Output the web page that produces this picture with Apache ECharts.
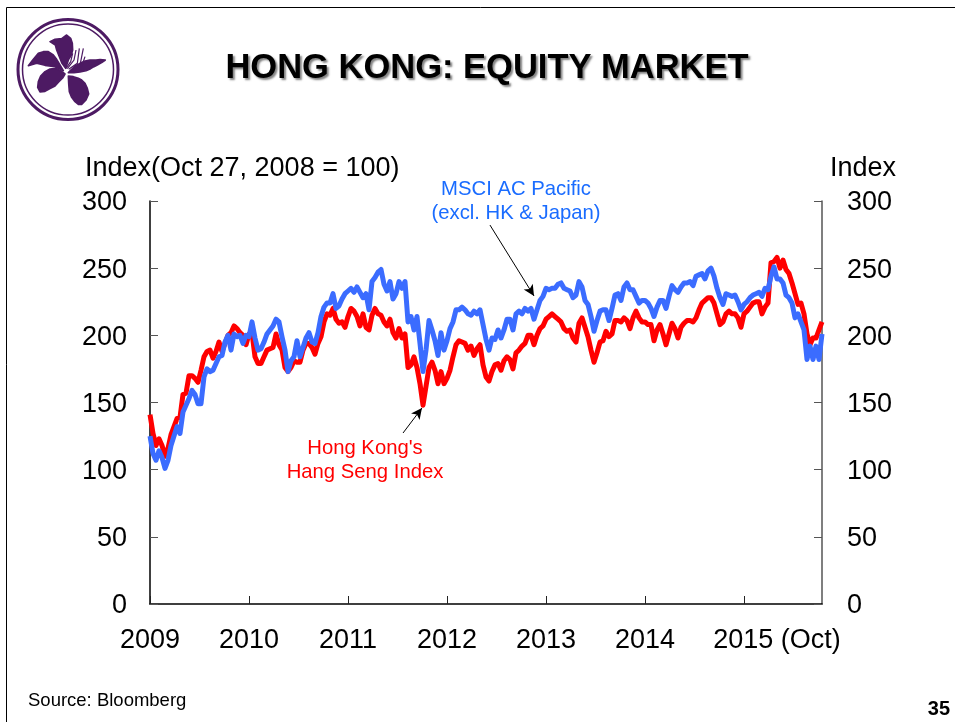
<!DOCTYPE html>
<html><head><meta charset="utf-8">
<script src="https://cdn.jsdelivr.net/npm/echarts@6/dist/echarts.min.js"></script>
<style>html,body{margin:0;padding:0;background:#fff}#c{width:955px;height:722px}</style>
</head><body><div id="c"></div>
<script>
const yearTicks = [2009,2010,2011,2012,2013,2014,2015];
const yTicks = [0,50,100,150,200,250,300];
const pointsPerYear = 33;

const hsi2009 = [141,127,118,123,118,110,116,126,132,138,139,156,157,170,170,168,165,174,184,188,189,183,188,195,188,194,200,202,207,205,202,200,193];
const hsi2010 = [201,202,184,179,179,184,189,190,191,201,193,189,176,173,176,181,180,180,189,194,194,191,186,194,199,210,216,215,220,212,209,210,206];
const hsi2011 = [214,220,218,214,207,216,206,204,215,220,216,215,210,207,212,202,198,205,198,201,176,178,184,176,164,148,162,176,180,174,164,173,164];
const hsi2012 = [168,174,184,193,196,195,194,189,192,185,190,193,178,169,166,173,178,179,174,181,184,182,175,187,189,192,194,200,200,193,200,205,207];
const hsi2013 = [212,214,216,214,212,210,205,203,204,198,195,209,213,206,199,189,180,187,195,196,203,199,201,211,211,210,213,211,205,213,218,213,210];
const hsi2014 = [210,208,208,196,204,208,201,193,201,209,205,198,206,209,211,211,210,213,219,224,226,228,228,224,216,208,210,216,218,216,216,213,206];
const hsi2015 = [216,218,221,224,225,225,216,221,224,254,255,258,250,256,249,246,239,231,223,224,216,201,193,198,198,204,210];

const msci2009 = [125,112,107,114,109,101,107,118,125,132,127,143,148,153,159,156,149,149,169,175,173,174,179,184,185,195,200,189,201,199,200,194,200];
const msci2010 = [199,210,198,189,190,195,201,204,207,212,210,199,189,173,181,184,196,184,191,198,202,195,194,202,214,221,224,224,231,220,222,227,231];
const msci2011 = [233,235,232,236,232,228,231,219,240,243,247,249,238,233,240,227,231,240,235,240,210,214,204,214,194,173,189,211,204,196,185,202,189];
const msci2012 = [196,205,210,219,219,221,219,216,215,218,216,219,208,197,189,198,197,204,198,204,212,212,204,216,218,216,220,218,220,212,219,226,229];
const msci2013 = [235,234,235,235,238,239,235,234,233,228,230,240,236,226,223,214,203,211,218,219,219,211,220,230,231,226,236,239,234,234,229,224,226];
const msci2014 = [226,224,220,214,221,226,226,220,229,237,234,232,236,239,239,240,237,244,245,246,242,248,250,244,235,228,223,231,230,229,230,225,219];
const msci2015 = [223,225,228,230,231,232,229,235,234,244,251,242,242,239,230,228,224,213,216,210,204,182,192,182,192,182,201];

const hsiValues = [].concat(hsi2009,hsi2010,hsi2011,hsi2012,hsi2013,hsi2014,hsi2015);
const msciValues = [].concat(msci2009,msci2010,msci2011,msci2012,msci2013,msci2014,msci2015);
const toPoints = vals => vals.map((v,i)=>[2009+i/pointsPerYear, v]);
const xEnd = 2009+(hsiValues.length-1)/pointsPerYear;

const PURPLE = '#4d1a63';
const scalePts = pts => pts.map(p=>[p[0]/3,p[1]/3]);
const petals = [
 [[197,205],[186,190],[178,170],[170,150],[166,135],[150,125],[165,118],[185,116],[200,105],[212,115],[217,130],[218,150],[214,165],[206,178]],
 [[190,212],[180,195],[170,178],[160,165],[145,155],[130,155],[115,160],[100,178],[85,197],[110,190],[135,196],[165,200]],
 [[195,222],[182,212],[168,205],[150,207],[135,215],[122,228],[115,245],[113,262],[120,276],[135,274],[150,266],[165,258],[176,246],[188,234]],
 [[205,228],[206,250],[208,275],[215,292],[225,305],[235,313],[245,313],[258,300],[266,282],[262,265],[255,250],[245,240],[235,235],[220,230]],
 [[205,218],[222,218],[240,216],[258,212],[272,206],[282,200],[292,195],[305,188],[316,180],[300,179],[288,180],[270,180],[255,183],[240,190],[225,198]]
];
const stamens = [
 [[198,205],[212,185],[218,160]],[[202,206],[222,180],[228,150]],
 [[206,208],[232,190],[238,145]],[[210,212],[240,195],[250,145]],[[214,214],[245,200],[255,170]]
];
const logo = [
 {type:'circle',shape:{cx:68,cy:69.5,r:50},style:{fill:'none',stroke:PURPLE,lineWidth:3}},
 {type:'circle',shape:{cx:68,cy:69.5,r:45.5},style:{fill:'none',stroke:PURPLE,lineWidth:1.5}}
].concat(petals.map(p=>({type:'polygon',shape:{points:scalePts(p)},style:{fill:PURPLE,stroke:PURPLE,lineWidth:1.6,lineJoin:'round'}})))
 .concat(stamens.map(p=>({type:'polyline',shape:{points:scalePts(p)},style:{fill:'none',stroke:PURPLE,lineWidth:1.2}})));

const FONT = '"Liberation Sans", Arial, sans-serif';
const txt = (text,x,y,size,color,align,extra) => ({type:'text',x:x,y:y,silent:true,style:Object.assign({text:text,fill:color,font:size+'px '+FONT,textAlign:align,textVerticalAlign:'middle',lineHeight:Math.round(size*1.17)},extra||{})});
const yLabelRich = {n:{fontSize:27,color:'#000',fontFamily:FONT,padding:[4,0,0,0]}};
const yLabelFmt = v => '{n|'+v+'}';

const chart = echarts.init(document.getElementById('c'),null,{renderer:'canvas'});
chart.setOption({
 animation:false,
 backgroundColor:'#fff',
 textStyle:{fontFamily:FONT},
 title:{text:'HONG KONG: EQUITY MARKET',left:482,top:46,textAlign:'center',
  textStyle:{fontFamily:FONT,fontSize:34.5,fontWeight:'bold',color:'#000',textShadowColor:'rgba(90,90,90,0.75)',textShadowBlur:2,textShadowOffsetX:2,textShadowOffsetY:2}},
 grid:{left:150,right:133,top:201,bottom:118,containLabel:false},
 xAxis:{type:'value',min:2009,max:xEnd,interval:1,
  axisLine:{onZero:false,lineStyle:{color:'#000',width:1.5}},
  axisTick:{inside:true,length:8,lineStyle:{color:'#222',width:1}},
  splitLine:{show:false},
  axisLabel:{margin:23,fontSize:27,color:'#000',fontFamily:FONT,hideOverlap:false,showMaxLabel:false,
   formatter:v=>{ if(!yearTicks.includes(v)) return ''; return v===2015?'{o|2015 (Oct)}':String(v); },
   rich:{o:{fontSize:27,color:'#000',fontFamily:FONT,padding:[0,0,0,66]}}}},
 yAxis:[
  {type:'value',position:'left',min:yTicks[0],max:yTicks[yTicks.length-1],interval:50,
   axisLine:{show:true,onZero:false,lineStyle:{color:'#000',width:1.5}},
   axisTick:{show:true,inside:true,length:8,lineStyle:{color:'#555',width:1}},
   splitLine:{show:false},axisLabel:{margin:23,formatter:yLabelFmt,rich:yLabelRich}},
  {type:'value',position:'right',min:yTicks[0],max:yTicks[yTicks.length-1],interval:50,
   axisLine:{show:true,onZero:false,lineStyle:{color:'#555',width:1.5}},
   axisTick:{show:true,inside:true,length:8,lineStyle:{color:'#555',width:1}},
   splitLine:{show:false},axisLabel:{margin:25,formatter:yLabelFmt,rich:yLabelRich}}
 ],
 series:[
  {name:"Hong Kong's Hang Seng Index",type:'line',data:toPoints(hsiValues),showSymbol:false,silent:true,
   lineStyle:{color:'#ff0000',width:5,join:'round'},itemStyle:{color:'#ff0000'},
   markLine:{silent:true,animation:false,symbol:['none','arrow'],symbolSize:[8,11],label:{show:false},lineStyle:{color:'#000',width:1,type:'solid'},
    data:[[{coord:[2011.556,127.3]},{coord:[2011.747,145.9]}]]}},
  {name:'MSCI AC Pacific (excl. HK & Japan)',type:'line',data:toPoints(msciValues),showSymbol:false,silent:true,
   lineStyle:{color:'#3b6cff',width:5,join:'round'},itemStyle:{color:'#3b6cff'},
   markLine:{silent:true,animation:false,symbol:['none','arrow'],symbolSize:[8,11],label:{show:false},lineStyle:{color:'#000',width:1,type:'solid'},
    data:[[{coord:[2012.434,282.1]},{coord:[2012.879,229.3]}]]}}
 ],
 graphic:[
  {type:'line',silent:true,shape:{x1:6.5,y1:7.5,x2:6.5,y2:722},style:{stroke:'#000',lineWidth:1}},
  {type:'line',silent:true,shape:{x1:6.5,y1:7.5,x2:955,y2:7.5},style:{stroke:'#000',lineWidth:1}},
  txt('Index(Oct 27, 2008 = 100)',85,169,27,'#000','left'),
  txt('Index',896,169,27,'#000','right'),
  txt('MSCI AC Pacific\n(excl. HK & Japan)',516,201.5,20.3,'#1a6cff','center'),
  txt("Hong Kong's\nHang Seng Index",365,460,20.3,'#ff0000','center'),
  txt('Source: Bloomberg',28,701,18.5,'#000','left'),
  txt('35',950,709,20,'#000','right',{font:'bold 20px '+FONT})
 ].concat(logo.map(o=>Object.assign({silent:true},o)))
});
</script></body></html>
